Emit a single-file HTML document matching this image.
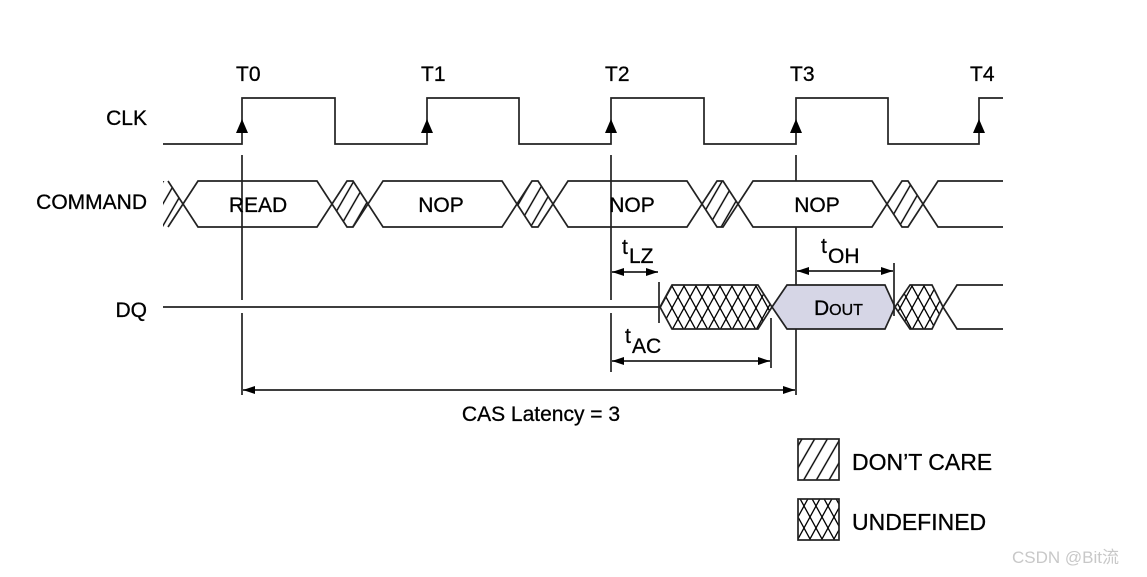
<!DOCTYPE html>
<html><head><meta charset="utf-8"><style>
html,body{margin:0;padding:0;background:#fff;}
svg{display:block;}
text{font-family:"Liberation Sans",sans-serif;fill:#000;}
</style></head><body>
<svg width="1147" height="577" viewBox="0 0 1147 577" xmlns="http://www.w3.org/2000/svg">
<defs>
<pattern id="h" patternUnits="userSpaceOnUse" width="11" height="20" patternTransform="rotate(30)">
<line x1="1" y1="0" x2="1" y2="20" stroke="#000" stroke-width="1.4"/>
</pattern>
<pattern id="x" patternUnits="userSpaceOnUse" width="12" height="22">
<path d="M0,0 L12,22 M12,0 L0,22" stroke="#000" stroke-width="1.3" fill="none"/>
</pattern>
<marker id="a" markerWidth="12" markerHeight="8" refX="12" refY="4" orient="auto" markerUnits="userSpaceOnUse">
<path d="M0,0 L12,4 L0,8 z" fill="#000"/>
</marker>
<marker id="b" markerWidth="12" markerHeight="8" refX="0" refY="4" orient="auto" markerUnits="userSpaceOnUse">
<path d="M12,0 L0,4 L12,8 z" fill="#000"/>
</marker>
</defs>
<g stroke="#222" stroke-width="1.7" fill="none">
<path d="M163,144 H242 V98 H335 V144 H427 V98 H519 V144 H611 V98 H704 V144 H796 V98 H888 V144 H979 V98 H1003"/>
<line x1="242" y1="155" x2="242" y2="300"/>
<line x1="242" y1="313" x2="242" y2="395"/>
<line x1="611" y1="155" x2="611" y2="300"/>
<line x1="611" y1="313" x2="611" y2="372"/>
<line x1="796" y1="155" x2="796" y2="395"/>
<polygon points="163,181 168,181 183,204 168,227 163,227" fill="url(#h)" stroke="none"/>
<path d="M168,181 L183,204 L168,227"/>
<polygon points="183,204 198,181 317,181 332,204 317,227 198,227" fill="#fff"/>
<polygon points="368,204 383,181 502,181 517,204 502,227 383,227" fill="#fff"/>
<polygon points="553,204 568,181 687,181 702,204 687,227 568,227" fill="#fff"/>
<polygon points="738,204 753,181 872,181 887,204 872,227 753,227" fill="#fff"/>
<path d="M1003,181 H938 L923,204 L938,227 H1003"/>
<polygon points="332,204 347,181 353,181 368,204 353,227 347,227" fill="url(#h)"/>
<polygon points="517,204 532,181 538,181 553,204 538,227 532,227" fill="url(#h)"/>
<polygon points="702,204 717,181 723,181 738,204 723,227 717,227" fill="url(#h)"/>
<polygon points="887,204 902,181 908,181 923,204 908,227 902,227" fill="url(#h)"/>
<line x1="242" y1="181" x2="242" y2="227"/>
<line x1="611" y1="181" x2="611" y2="227"/>
<line x1="163" y1="307" x2="660" y2="307"/>
<line x1="659" y1="282" x2="659" y2="323"/>
<polygon points="660,307 672,285 758,285 772,307 758,329 672,329" fill="url(#x)"/>
<polygon points="772,307 787,285 885,285 895,307 885,329 787,329" fill="#d6d6e6"/>
<polygon points="895,307 910,285 932,285 943,307 932,329 910,329" fill="url(#x)"/>
<path d="M1003,285 H957 L943,307 L957,329 H1003"/>
<line x1="894" y1="263" x2="894" y2="316"/>
<line x1="771" y1="318" x2="771" y2="368"/>
<line x1="612" y1="272" x2="658" y2="272" marker-start="url(#b)" marker-end="url(#a)"/>
<line x1="797" y1="271" x2="893" y2="271" marker-start="url(#b)" marker-end="url(#a)"/>
<line x1="612" y1="361" x2="770" y2="361" marker-start="url(#b)" marker-end="url(#a)"/>
<line x1="243" y1="390" x2="795" y2="390" marker-start="url(#b)" marker-end="url(#a)"/>
<rect x="798" y="439" width="41" height="41" fill="url(#h)"/>
<rect x="798" y="499" width="41" height="41" fill="url(#x)"/>
</g>
<g fill="#000">
<path d="M236,133 L248,133 L242,119 z"/>
<path d="M421,133 L433,133 L427,119 z"/>
<path d="M605,133 L617,133 L611,119 z"/>
<path d="M790,133 L802,133 L796,119 z"/>
<path d="M973,133 L985,133 L979,119 z"/>
</g>
<g font-size="21" stroke="#000" stroke-width="0.3">
<text x="236" y="81">T0</text>
<text x="421" y="81">T1</text>
<text x="605" y="81">T2</text>
<text x="790" y="81">T3</text>
<text x="970" y="81">T4</text>
<text x="147" y="125" text-anchor="end">CLK</text>
<text x="147" y="209" text-anchor="end">COMMAND</text>
<text x="147" y="317" text-anchor="end">DQ</text>
<text x="258" y="212" text-anchor="middle">READ</text>
<text x="441" y="212" text-anchor="middle">NOP</text>
<text x="632" y="212" text-anchor="middle">NOP</text>
<text x="817" y="212" text-anchor="middle">NOP</text>
<text x="622" y="254">t</text><text x="629" y="263">LZ</text>
<text x="821" y="253">t</text><text x="828" y="263">OH</text>
<text x="625" y="343">t</text><text x="632" y="353">AC</text>
<text x="814" y="315">D<tspan font-size="16">OUT</tspan></text>
<text x="541" y="421" text-anchor="middle">CAS Latency = 3</text>
<text x="852" y="470" font-size="23">DON’T CARE</text>
<text x="852" y="530" font-size="23">UNDEFINED</text>
</g>
<text x="1012" y="563" font-size="17" style="fill:#c8c8c8">CSDN @Bit流</text>
</svg>
</body></html>
